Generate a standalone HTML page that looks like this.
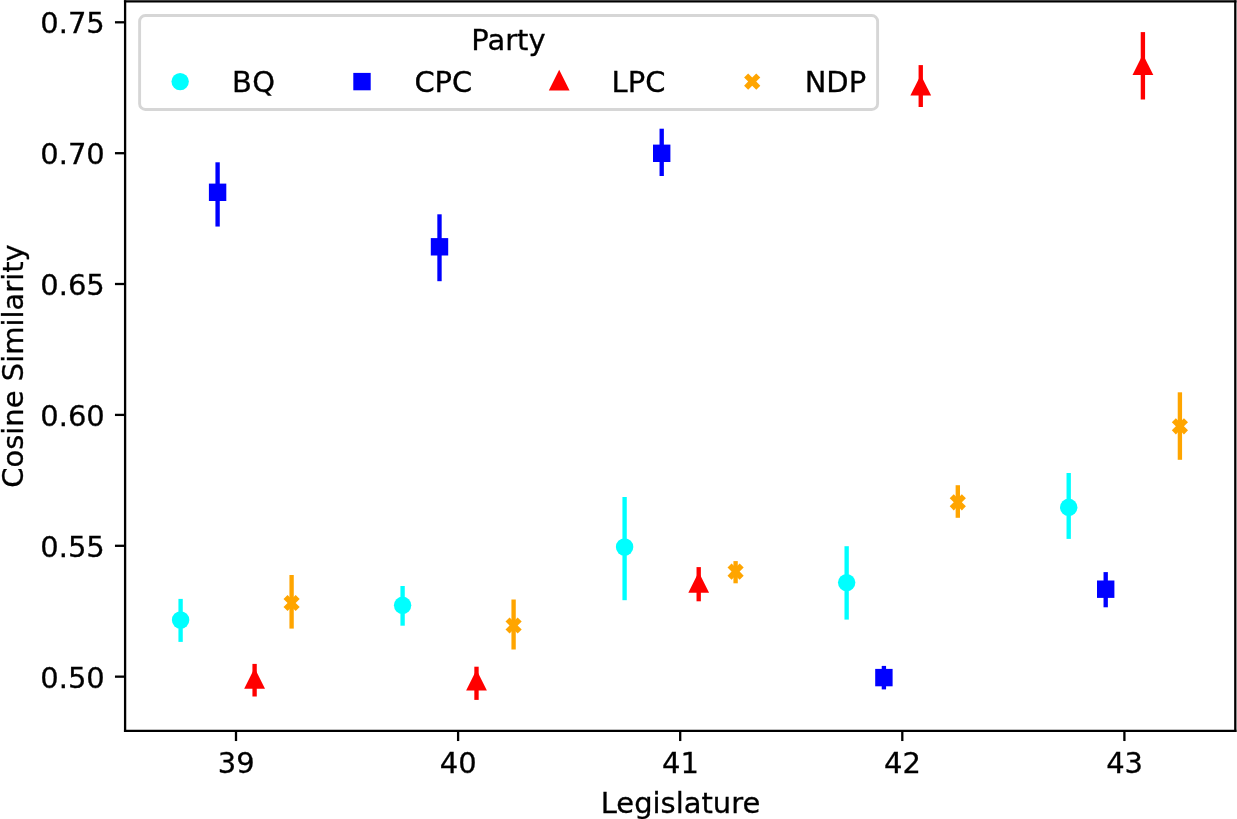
<!DOCTYPE html>
<html lang="en"><head><meta charset="utf-8"><title>Cosine Similarity by Legislature</title>
<style>html,body{margin:0;padding:0;background:#fff;}svg{display:block;}text{font-family:"DejaVu Sans","Liberation Sans",sans-serif;font-size:28.97px;fill:#000;stroke:#000;stroke-width:0.3px;}</style>
</head><body>
<svg width="1237" height="819" viewBox="0 0 1237 819">
<rect x="0" y="0" width="1237" height="819" fill="#ffffff"/>
<g id="series-BQ">
<line x1="180.60" y1="598.90" x2="180.60" y2="641.90" stroke="#00ffff" stroke-width="4.35"/>
<line x1="402.60" y1="586.00" x2="402.60" y2="625.70" stroke="#00ffff" stroke-width="4.35"/>
<line x1="624.60" y1="497.00" x2="624.60" y2="600.20" stroke="#00ffff" stroke-width="4.35"/>
<line x1="846.65" y1="546.20" x2="846.65" y2="619.60" stroke="#00ffff" stroke-width="4.35"/>
<line x1="1068.70" y1="473.00" x2="1068.70" y2="538.90" stroke="#00ffff" stroke-width="4.35"/>
<circle cx="180.60" cy="620.00" r="8.7" fill="#00ffff"/>
<circle cx="402.60" cy="605.30" r="8.7" fill="#00ffff"/>
<circle cx="624.60" cy="547.00" r="8.7" fill="#00ffff"/>
<circle cx="846.65" cy="582.60" r="8.7" fill="#00ffff"/>
<circle cx="1068.70" cy="507.30" r="8.7" fill="#00ffff"/>
</g>
<g id="series-CPC">
<line x1="217.60" y1="162.30" x2="217.60" y2="226.55" stroke="#0000ff" stroke-width="4.35"/>
<line x1="439.50" y1="214.30" x2="439.50" y2="281.20" stroke="#0000ff" stroke-width="4.35"/>
<line x1="661.70" y1="128.70" x2="661.70" y2="176.00" stroke="#0000ff" stroke-width="4.35"/>
<line x1="883.90" y1="665.90" x2="883.90" y2="689.40" stroke="#0000ff" stroke-width="4.35"/>
<line x1="1105.70" y1="572.10" x2="1105.70" y2="607.30" stroke="#0000ff" stroke-width="4.35"/>
<rect x="208.90" y="183.60" width="17.4" height="17.4" fill="#0000ff"/>
<rect x="430.80" y="238.10" width="17.4" height="17.4" fill="#0000ff"/>
<rect x="653.00" y="144.60" width="17.4" height="17.4" fill="#0000ff"/>
<rect x="875.20" y="668.90" width="17.4" height="17.4" fill="#0000ff"/>
<rect x="1097.00" y="580.50" width="17.4" height="17.4" fill="#0000ff"/>
</g>
<g id="series-LPC">
<line x1="254.60" y1="663.90" x2="254.60" y2="696.50" stroke="#ff0000" stroke-width="4.35"/>
<line x1="476.50" y1="666.70" x2="476.50" y2="699.90" stroke="#ff0000" stroke-width="4.35"/>
<line x1="698.70" y1="567.10" x2="698.70" y2="601.30" stroke="#ff0000" stroke-width="4.35"/>
<line x1="920.75" y1="65.10" x2="920.75" y2="107.00" stroke="#ff0000" stroke-width="4.35"/>
<line x1="1142.90" y1="32.10" x2="1142.90" y2="99.50" stroke="#ff0000" stroke-width="4.35"/>
<polygon points="254.60,668.10 244.20,688.80 265.00,688.80" fill="#ff0000"/>
<polygon points="476.50,669.80 466.10,690.50 486.90,690.50" fill="#ff0000"/>
<polygon points="698.70,572.00 688.30,592.70 709.10,592.70" fill="#ff0000"/>
<polygon points="920.75,74.90 910.35,95.60 931.15,95.60" fill="#ff0000"/>
<polygon points="1142.90,54.30 1132.50,75.00 1153.30,75.00" fill="#ff0000"/>
</g>
<g id="series-NDP">
<line x1="291.60" y1="575.00" x2="291.60" y2="628.60" stroke="#ffa500" stroke-width="4.35"/>
<line x1="513.60" y1="599.50" x2="513.60" y2="649.50" stroke="#ffa500" stroke-width="4.35"/>
<line x1="735.60" y1="561.10" x2="735.60" y2="583.30" stroke="#ffa500" stroke-width="4.35"/>
<line x1="957.80" y1="485.20" x2="957.80" y2="517.80" stroke="#ffa500" stroke-width="4.35"/>
<line x1="1179.90" y1="392.30" x2="1179.90" y2="459.80" stroke="#ffa500" stroke-width="4.35"/>
<polygon points="287.55,594.90 291.60,598.95 295.65,594.90 299.70,598.95 295.65,603.00 299.70,607.05 295.65,611.10 291.60,607.05 287.55,611.10 283.50,607.05 287.55,603.00 283.50,598.95" fill="#ffa500"/>
<polygon points="509.55,617.40 513.60,621.45 517.65,617.40 521.70,621.45 517.65,625.50 521.70,629.55 517.65,633.60 513.60,629.55 509.55,633.60 505.50,629.55 509.55,625.50 505.50,621.45" fill="#ffa500"/>
<polygon points="731.55,563.50 735.60,567.55 739.65,563.50 743.70,567.55 739.65,571.60 743.70,575.65 739.65,579.70 735.60,575.65 731.55,579.70 727.50,575.65 731.55,571.60 727.50,567.55" fill="#ffa500"/>
<polygon points="953.75,494.20 957.80,498.25 961.85,494.20 965.90,498.25 961.85,502.30 965.90,506.35 961.85,510.40 957.80,506.35 953.75,510.40 949.70,506.35 953.75,502.30 949.70,498.25" fill="#ffa500"/>
<polygon points="1175.85,418.20 1179.90,422.25 1183.95,418.20 1188.00,422.25 1183.95,426.30 1188.00,430.35 1183.95,434.40 1179.90,430.35 1175.85,434.40 1171.80,430.35 1175.85,426.30 1171.80,422.25" fill="#ffa500"/>
</g>
<g stroke="#000" stroke-width="2.3" fill="none" stroke-linecap="square">
<line x1="125.1" y1="1.4" x2="125.1" y2="730.9"/>
<line x1="1235.3" y1="1.4" x2="1235.3" y2="730.9"/>
<line x1="125.1" y1="1.4" x2="1235.3" y2="1.4"/>
<line x1="125.1" y1="730.9" x2="1235.3" y2="730.9"/>
</g>
<g stroke="#000" stroke-width="2.3">
<line x1="236.0" y1="730.9" x2="236.0" y2="741.04"/>
<line x1="458.1" y1="730.9" x2="458.1" y2="741.04"/>
<line x1="680.2" y1="730.9" x2="680.2" y2="741.04"/>
<line x1="902.3" y1="730.9" x2="902.3" y2="741.04"/>
<line x1="1124.4" y1="730.9" x2="1124.4" y2="741.04"/>
<line x1="125.1" y1="22.3" x2="114.96" y2="22.3"/>
<line x1="125.1" y1="153.2" x2="114.96" y2="153.2"/>
<line x1="125.1" y1="284.0" x2="114.96" y2="284.0"/>
<line x1="125.1" y1="414.9" x2="114.96" y2="414.9"/>
<line x1="125.1" y1="545.8" x2="114.96" y2="545.8"/>
<line x1="125.1" y1="676.65" x2="114.96" y2="676.65"/>
</g>
<text x="236.20" y="773.3" text-anchor="middle">39</text>
<text x="458.30" y="773.3" text-anchor="middle">40</text>
<text x="680.40" y="773.3" text-anchor="middle">41</text>
<text x="902.50" y="773.3" text-anchor="middle">42</text>
<text x="1124.60" y="773.3" text-anchor="middle">43</text>
<text x="104.8" y="33.30" text-anchor="end">0.75</text>
<text x="104.8" y="164.20" text-anchor="end">0.70</text>
<text x="104.8" y="295.00" text-anchor="end">0.65</text>
<text x="104.8" y="425.90" text-anchor="end">0.60</text>
<text x="104.8" y="556.80" text-anchor="end">0.55</text>
<text x="104.8" y="687.65" text-anchor="end">0.50</text>
<text x="680.5" y="813.0" text-anchor="middle">Legislature</text>
<text transform="translate(22.55 366.0) rotate(-90)" text-anchor="middle">Cosine Similarity</text>
<g id="legend">
<rect x="139.6" y="15.5" width="738.0" height="93.95" rx="5.8" ry="5.8" fill="#ffffff" fill-opacity="0.8" stroke="#cccccc" stroke-opacity="0.8" stroke-width="2.9"/>
<text x="508.4" y="49.6" text-anchor="middle">Party</text>
<circle cx="180.15" cy="81.60" r="8.7" fill="#00ffff"/>
<text x="231.9" y="91.9" letter-spacing="0.5">BQ</text>
<rect x="353.30" y="72.90" width="17.4" height="17.4" fill="#0000ff"/>
<text x="414.4" y="91.9">CPC</text>
<polygon points="559.20,69.80 548.80,90.50 569.60,90.50" fill="#ff0000"/>
<text x="611.6" y="91.9">LPC</text>
<polygon points="748.15,73.50 752.20,77.55 756.25,73.50 760.30,77.55 756.25,81.60 760.30,85.65 756.25,89.70 752.20,85.65 748.15,89.70 744.10,85.65 748.15,81.60 744.10,77.55" fill="#ffa500"/>
<text x="804.7" y="91.9">NDP</text>
</g>
</svg></body></html>
